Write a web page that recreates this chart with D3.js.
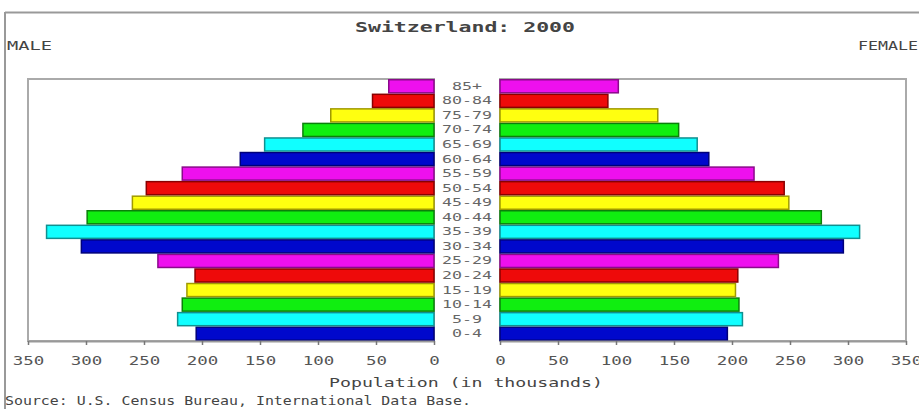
<!DOCTYPE html>
<html>
<head>
<meta charset="utf-8">
<script src="https://cdn.jsdelivr.net/npm/d3@7"></script>
<style>
  body { margin: 0; background: #fff; }
  svg { display: block; }
  text { font-family: "DejaVu Sans Mono", monospace; fill: #444; }
</style>
</head>
<body>
<svg id="chart" width="919" height="409"></svg>
<script>
// Population by age group, in thousands
const ages = ["0-4", "5-9", "10-14", "15-19", "20-24", "25-29", "30-34", "35-39", "40-44",
  "45-49", "50-54", "55-59", "60-64", "65-69", "70-74", "75-79", "80-84", "85+"];
const male = [205, 221, 217, 213, 206, 238, 304, 334, 299, 260, 248, 217, 167, 146, 113, 89, 53, 39];
const female = [196, 209, 206, 203, 205, 240, 296, 310, 277, 249, 245, 219, 180, 170, 154, 136, 93, 102];
const ticks = [0, 50, 100, 150, 200, 250, 300, 350];

const fills = ["#0008cc", "#10ffff", "#10ee10", "#ffff10", "#ee0a0a", "#ee10ee"];
const edges = ["#00007a", "#109090", "#0a800a", "#a09a00", "#8a0000", "#8a0a8a"];

const svg = d3.select("#chart");
const plotTop = 79, plotBottom = 341;

const xLeft = d3.scaleLinear().domain([0, 350]).range([434, 28]);
const xRight = d3.scaleLinear().domain([0, 350]).range([500, 906]);
const y = d3.scaleBand().domain(ages.slice().reverse()).range([plotTop, plotBottom]).padding(0);

// outer frame (only top and left edges show)
svg.append("line").attr("x1", 5).attr("x2", 919).attr("y1", 12.5).attr("y2", 12.5)
  .attr("stroke", "#999").attr("stroke-width", 2);
svg.append("line").attr("x1", 5).attr("x2", 5).attr("y1", 12).attr("y2", 409)
  .attr("stroke", "#999").attr("stroke-width", 2);

// panel boxes
[xLeft, xRight].forEach(x => {
  const r = x.range();
  svg.append("rect")
    .attr("x", Math.min(...r)).attr("y", plotTop)
    .attr("width", Math.abs(r[1] - r[0])).attr("height", plotBottom - plotTop)
    .attr("fill", "none").attr("stroke", "#aaa").attr("stroke-width", 2);
});

const drawBars = (data, x, side) => {
  svg.append("g")
    .selectAll("rect")
    .data(data)
    .join("rect")
      .attr("x", d => side === "left" ? x(d) : x(0))
      .attr("width", d => Math.abs(x(d) - x(0)))
      .attr("y", (d, i) => y(ages[i]) + 0.75)
      .attr("height", y.bandwidth() - 1.5)
      .attr("fill", (d, i) => fills[i % 6])
      .attr("stroke", (d, i) => edges[i % 6])
      .attr("stroke-width", 1.5);
};
drawBars(male, xLeft, "left");
drawBars(female, xRight, "right");

// axes
const axisStyle = g => {
  g.select(".domain").attr("stroke", "#999").attr("stroke-width", 2);
  g.selectAll(".tick line").attr("stroke", "#777").attr("stroke-width", 1.5);
  g.selectAll(".tick text")
    .attr("y", 15)
    .style("font-size", "13px")
    .style("fill", "#555")
    .attr("textLength", d => String(d).length * 10.5)
    .attr("lengthAdjust", "spacingAndGlyphs");
};
svg.append("g").attr("transform", `translate(0,${plotBottom})`)
  .call(d3.axisBottom(xLeft).tickValues(ticks).tickSize(4).tickSizeOuter(0))
  .call(axisStyle);
svg.append("g").attr("transform", `translate(0,${plotBottom})`)
  .call(d3.axisBottom(xRight).tickValues(ticks).tickSize(4).tickSizeOuter(0))
  .call(axisStyle);

// age group labels in the middle
svg.append("g")
  .selectAll("text")
  .data(ages)
  .join("text")
    .attr("x", 467)
    .attr("y", d => y(d) + y.bandwidth() / 2 + 3.5)
    .attr("text-anchor", "middle")
    .attr("textLength", d => d.length * 10)
    .attr("lengthAdjust", "spacingAndGlyphs")
    .style("font-size", "10px")
    .style("fill", "#666")
    .text(d => d);

// titles and notes
const label = (txt, x, yPos, anchor, len, size, weight) => {
  svg.append("text")
    .attr("x", x).attr("y", yPos)
    .attr("text-anchor", anchor)
    .attr("textLength", len)
    .attr("lengthAdjust", "spacingAndGlyphs")
    .style("font-size", size + "px")
    .style("font-weight", weight || "normal")
    .text(txt);
};
label("Switzerland: 2000", 465, 32, "middle", 220, 14, "bold");
label("MALE", 7, 50, "start", 45, 12);
label("FEMALE", 918, 50, "end", 60, 12);
label("Population (in thousands)", 466, 387, "middle", 274, 13);
label("Source: U.S. Census Bureau, International Data Base.", 5, 405, "start", 466, 13);
</script>
</body>
</html>
